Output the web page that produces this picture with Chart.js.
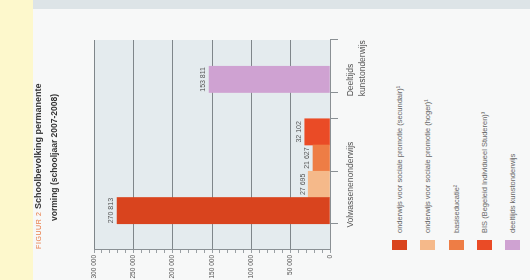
<!DOCTYPE html>
<html>
<head>
<meta charset="utf-8">
<script src="https://cdn.jsdelivr.net/npm/chart.js@4.4.1/dist/chart.umd.min.js"></script>
<style>
  body { margin: 0; width: 530px; height: 280px; overflow: hidden; background: #f7f8f8; font-family: 'Liberation Sans', Arial, sans-serif; }
  #strip { position: absolute; left: 0; top: 0; width: 33px; height: 280px; background: #fdf8cc; }
  #band { position: absolute; left: 33px; top: 0; width: 497px; height: 9px; background: #dde4e7; }
  /* the whole page is turned a quarter turn, like the scan */
  #page { position: absolute; left: 33px; top: 10px; width: 270px; height: 497px;
          transform-origin: 0 0; transform: translateY(270px) rotate(-90deg); }
  #grafico { position: absolute; left: 0; top: 0; }
  #titel { position: absolute; left: 31px; top: -2px; width: 235px; color: #333; }
  #titel .l1 { font-size: 9px; font-weight: bold; line-height: 15px; white-space: nowrap; }
  #titel .fig { color: #e8743b; font-size: 7px; font-weight: normal; letter-spacing: 0.6px; }
  #titel .l2 { font-size: 8.5px; font-weight: bold; line-height: 16px; padding-left: 28px; white-space: nowrap; }
  #legenda { position: absolute; left: 30px; top: 359px; }
  .item { height: 15px; margin-bottom: 13.3px; display: flex; align-items: center; }
  .vak { width: 10px; height: 15px; margin-right: 7px; }
  .item span { font-size: 7.5px; color: #666; white-space: nowrap; }
</style>
</head>
<body>
<div id="strip"></div>
<div id="band"></div>
<div id="page">
  <canvas id="grafico" width="270" height="350"></canvas>
  <div id="titel">
    <div class="l1"><span class="fig">FIGUUR 2</span> Schoolbevolking permanente</div>
    <div class="l2">vorming (schooljaar 2007-2008)</div>
  </div>
  <div id="legenda"></div>
</div>
<script>
  const categorieen = [['Volwassenenonderwijs'], ['Deeltijds', 'kunstonderwijs']];
  const reeksen = [
    'onderwijs voor sociale promotie (secundair)¹',
    'onderwijs voor sociale promotie (hoger)¹',
    'basiseducatie²',
    'BIS (Begeleid Individueel Studeren)³',
    'deeltijds kunstonderwijs'
  ];
  const waarden = [270813, 27695, 21627, 32102, 153811];
  const reeksCategorie = [0, 0, 0, 0, 1];
  const kleuren = ['#d9441e', '#f5b98a', '#ee7d45', '#ea4b26', '#cfa2d2'];
  const yTicks = [0, 50000, 100000, 150000, 200000, 250000, 300000];

  function getal(n) {
    return String(n).replace(/\B(?=(\d{3})+(?!\d))/g, ' ');
  }

  // one slot per bar, an empty slot before, between and after the groups
  const slots = [''];
  const slotReeks = [null];
  categorieen.forEach((cat, ci) => {
    if (ci > 0) { slots.push(''); slotReeks.push(null); }
    let eerste = true;
    reeksen.forEach((r, ri) => {
      if (reeksCategorie[ri] !== ci) return;
      slots.push(eerste ? cat : '');
      slotReeks.push(ri);
      eerste = false;
    });
  });
  slots.push('');
  slotReeks.push(null);

  const datasets = reeksen.map((r, ri) => ({
    label: r,
    data: slotReeks.map(s => s === ri ? waarden[ri] : null),
    backgroundColor: kleuren[ri],
    borderWidth: 0,
    barPercentage: 1,
    categoryPercentage: 1
  }));

  const legenda = document.getElementById('legenda');
  reeksen.forEach((r, ri) => {
    const div = document.createElement('div');
    div.className = 'item';
    div.innerHTML = `<div class="vak" style="background:${kleuren[ri]}"></div><span>${r}</span>`;
    legenda.appendChild(div);
  });

  const achtergrond = {
    id: 'achtergrond',
    beforeDraw(chart) {
      const { ctx, chartArea: a } = chart;
      ctx.save();
      ctx.fillStyle = '#e4ebee';
      ctx.fillRect(a.left, a.top, a.right - a.left, a.bottom - a.top);
      ctx.restore();
    }
  };

  const waardeLabels = {
    id: 'waardeLabels',
    afterDatasetsDraw(chart) {
      const ctx = chart.ctx;
      ctx.save();
      ctx.font = "7px 'Liberation Sans', Arial, sans-serif";
      ctx.fillStyle = '#555';
      ctx.textAlign = 'center';
      ctx.textBaseline = 'bottom';
      chart.data.datasets.forEach((ds, i) => {
        chart.getDatasetMeta(i).data.forEach((bar, j) => {
          if (ds.data[j] == null) return;
          ctx.fillText(getal(ds.data[j]), bar.x, bar.y - 2);
        });
      });
      ctx.restore();
    }
  };

  const zichtbareStreepjes = [1, 3, 5, 6];

  Chart.defaults.font.family = "'Liberation Sans', Arial, sans-serif";

  new Chart(document.getElementById('grafico').getContext('2d'), {
    type: 'bar',
    data: { labels: slots, datasets: datasets },
    options: {
      responsive: false,
      animation: false,
      devicePixelRatio: 1,
      layout: { padding: { top: 61, right: 30, bottom: 0, left: 0 } },
      plugins: { legend: { display: false }, tooltip: { enabled: false } },
      scales: {
        x: {
          stacked: true,
          offset: true,
          border: { display: true, color: '#8a9094' },
          grid: {
            offset: true,
            drawOnChartArea: false,
            drawTicks: true,
            tickLength: 8,
            tickColor: (c) => (c.index === undefined || zichtbareStreepjes.includes(c.index)) ? '#8a9094' : 'rgba(0,0,0,0)'
          },
          ticks: {
            autoSkip: false,
            minRotation: 0,
            maxRotation: 0,
            align: 'start',
            labelOffset: -17,
            padding: 6,
            color: '#555',
            font: { size: 8.5, lineHeight: 1.45 }
          },
          afterFit: (s) => { s.height = 53; }
        },
        y: {
          stacked: true,
          min: 0,
          max: 300000,
          border: { display: true, color: '#8a9094' },
          grid: {
            color: (c) => c.tick && yTicks.includes(c.tick.value) ? '#7f868a' : 'rgba(0,0,0,0)',
            tickColor: '#9aa0a4',
            tickLength: 3
          },
          ticks: {
            stepSize: 10000,
            autoSkip: false,
            padding: 2,
            color: '#555',
            font: { size: 6.5 },
            callback: (v) => yTicks.includes(v) ? getal(v) : ''
          },
          afterFit: (s) => { s.width = 30; }
        }
      }
    },
    plugins: [achtergrond, waardeLabels]
  });
</script>
</body>
</html>
